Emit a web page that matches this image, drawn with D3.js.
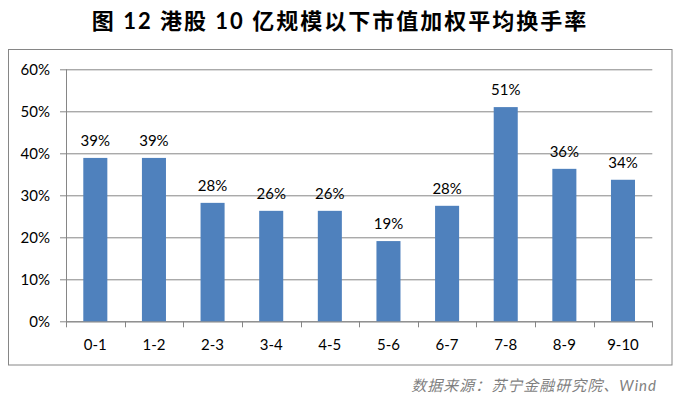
<!DOCTYPE html>
<html lang="zh">
	<head>
		<meta charset="utf-8">
		<title>港股10亿规模以下市值加权平均换手率</title>
		<script type="text/javascript" src="https://cdn.jsdelivr.net/npm/d3@7"></script>
		<style type="text/css">
			body { margin: 0; background: #fff; }
			text { font-family: Lato, "Noto Sans CJK SC", sans-serif; }
		</style>
	</head>
	<body>
		<script type="text/javascript">
			// Data
			var categories = ["0-1", "1-2", "2-3", "3-4", "4-5", "5-6", "6-7", "7-8", "8-9", "9-10"];
			var values = [38.9, 38.9, 28.2, 26.3, 26.3, 19.1, 27.5, 51.0, 36.3, 33.7];
			var yTicks = [0, 10, 20, 30, 40, 50, 60];

			var w = 680;
			var h = 398;
			var plotLeft = 66, plotRight = 652.3, plotTop = 69.3, plotBottom = 321.3;

			var svg = d3.select("body")
						.append("svg")
						.attr("width", w)
						.attr("height", h);

			//Title
			svg.append("text")
			   .attr("x", 340)
			   .attr("y", 29)
			   .attr("text-anchor", "middle")
			   .attr("font-family", "'Noto Sans CJK SC', sans-serif")
			   .attr("font-weight", "bold")
			   .attr("font-size", "22px")
			   .attr("letter-spacing", "2px")
			   .attr("fill", "#000")
			   .text("图 12  港股 10 亿规模以下市值加权平均换手率");

			//Chart frame
			svg.append("rect")
			   .attr("x", 8.5)
			   .attr("y", 49.5)
			   .attr("width", 663.5)
			   .attr("height", 315.5)
			   .attr("fill", "none")
			   .attr("stroke", "#868686")
			   .attr("stroke-width", 1);

			var xScale = d3.scaleBand()
							.domain(categories)
							.range([plotLeft, plotRight])
							.paddingInner(0.59)
							.paddingOuter(0.295);

			var yScale = d3.scaleLinear()
							.domain([0, 60])
							.range([plotBottom, plotTop]);

			//Y axis with gridlines
			var yAxis = d3.axisLeft(yScale)
						  .tickValues(yTicks)
						  .tickSize(plotRight - plotLeft + 6)
						  .tickFormat(function(d) { return d + "%"; });

			var gy = svg.append("g")
						.attr("transform", "translate(" + plotRight + ",0)")
						.call(yAxis);
			gy.select(".domain").remove();
			gy.selectAll(".tick line")
			  .attr("stroke", "#868686");
			gy.selectAll(".tick text")
			  .attr("x", -(plotRight - plotLeft) - 16)
			  .attr("font-family", "Lato, sans-serif")
			  .attr("font-size", "15px")
			  .attr("fill", "#000");

			//Y axis line
			svg.append("line")
			   .attr("x1", plotLeft + 0.5)
			   .attr("x2", plotLeft + 0.5)
			   .attr("y1", plotTop)
			   .attr("y2", plotBottom)
			   .attr("stroke", "#868686");

			//X axis
			var xTickScale = d3.scaleLinear()
							   .domain([0, categories.length])
							   .range([plotLeft, plotRight]);
			svg.append("g")
			   .selectAll("line")
			   .data(d3.range(categories.length + 1))
			   .enter()
			   .append("line")
			   .attr("x1", function(d) { return Math.round(xTickScale(d)) + 0.5; })
			   .attr("x2", function(d) { return Math.round(xTickScale(d)) + 0.5; })
			   .attr("y1", plotBottom)
			   .attr("y2", plotBottom + 6)
			   .attr("stroke", "#868686");

			svg.append("line")
			   .attr("x1", plotLeft)
			   .attr("x2", plotRight)
			   .attr("y1", plotBottom + 0.5)
			   .attr("y2", plotBottom + 0.5)
			   .attr("stroke", "#868686");

			svg.selectAll("text.xlabel")
			   .data(categories)
			   .enter()
			   .append("text")
			   .attr("class", "xlabel")
			   .attr("x", function(d) { return xScale(d) + xScale.bandwidth() / 2; })
			   .attr("y", 350)
			   .attr("text-anchor", "middle")
			   .attr("font-size", "15px")
			   .attr("fill", "#000")
			   .text(function(d) { return d; });

			//Bars
			svg.selectAll("rect.bar")
			   .data(values)
			   .enter()
			   .append("rect")
			   .attr("class", "bar")
			   .attr("x", function(d, i) { return xScale(categories[i]); })
			   .attr("y", function(d) { return yScale(d); })
			   .attr("width", xScale.bandwidth())
			   .attr("height", function(d) { return plotBottom - yScale(d); })
			   .attr("fill", "#4F81BD");

			//Labels
			svg.selectAll("text.vlabel")
			   .data(values)
			   .enter()
			   .append("text")
			   .attr("class", "vlabel")
			   .attr("x", function(d, i) { return xScale(categories[i]) + xScale.bandwidth() / 2; })
			   .attr("y", function(d) { return yScale(d) - 12; })
			   .attr("text-anchor", "middle")
			   .attr("font-size", "15px")
			   .attr("fill", "#000")
			   .text(function(d) { return Math.round(d) + "%"; });

			//Source note
			svg.append("text")
			   .attr("x", 657)
			   .attr("y", 391)
			   .attr("text-anchor", "end")
			   .attr("font-family", "'Noto Sans CJK SC', sans-serif")
			   .attr("font-style", "italic")
			   .attr("font-size", "15px")
			   .attr("letter-spacing", "1px")
			   .attr("fill", "#7f7f7f")
			   .text("数据来源：苏宁金融研究院、Wind");
		</script>
	</body>
</html>
